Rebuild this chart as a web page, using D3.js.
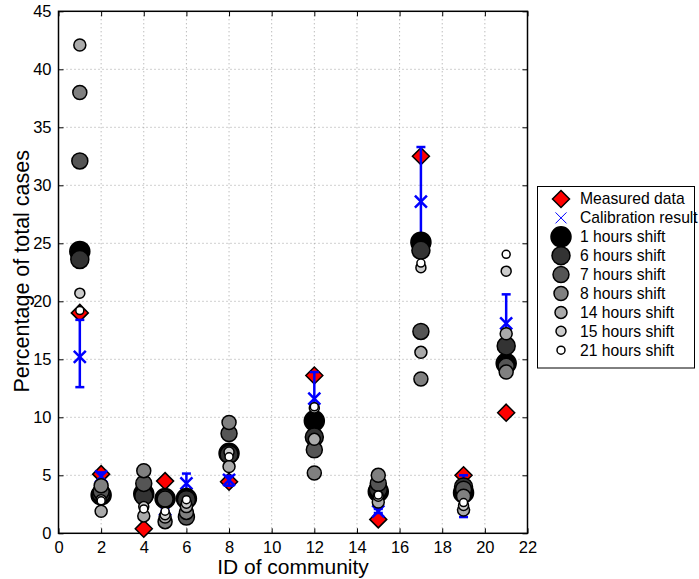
<!DOCTYPE html>
<html>
<head>
<meta charset="utf-8">
<script src="https://cdn.jsdelivr.net/npm/d3@7"></script>
<style>
  html, body { margin: 0; padding: 0; background: #fff; }
  svg { display: block; font-family: "Liberation Sans", Arial, Helvetica, sans-serif; }
</style>
</head>
<body>
<svg id="chart" width="699" height="579"></svg>
<script>
// Community IDs on the x axis
const communities = [1, 2, 4, 5, 6, 8, 12, 15, 17, 19, 21];

// Measured share of total cases (%)
const measured = [19.0, 5.1, 0.4, 4.5, 3.0, 4.45, 13.6, 1.2, 32.5, 5.0, 10.4];

// Calibration result with its lower / upper bounds (%)
const calibration = [15.2, 4.9, 3.4, 2.05, 4.3, 4.6, 11.6, 1.9, 28.6, 3.3, 18.1];
const calibrationLow = [12.6, 4.6, 3.0, 1.9, 3.5, 4.1, 11.0, 1.75, 24.8, 1.4, 15.6];
const calibrationHigh = [18.4, 5.25, 3.8, 2.2, 5.15, 4.95, 13.9, 2.1, 33.3, 5.0, 20.6];

// Simulated share for each time shift (%)
const shift1 = [24.3, 3.3, 3.4, 3.0, 3.0, 6.9, 9.7, 3.6, 25.1, 3.5, 14.65];
const shift6 = [23.6, 3.4, 3.2, 3.0, 2.9, 6.8, 8.3, 3.8, 24.4, 4.0, 16.15];
const shift7 = [32.1, 3.6, 4.3, 2.95, 1.4, 8.6, 7.2, 4.3, 17.4, 3.8, 14.4];
const shift8 = [38.0, 4.1, 5.4, 1.0, 1.8, 9.55, 5.2, 5.0, 13.3, 3.2, 13.9];
const shift14 = [42.1, 1.9, 1.5, 1.4, 2.3, 5.75, 8.1, 2.7, 15.6, 2.0, 17.2];
const shift15 = [20.7, 2.9, 2.3, 1.6, 2.6, 7.0, 10.8, 3.2, 22.9, 2.4, 22.6];
const shift21 = [19.2, 2.8, 2.1, 1.9, 2.9, 6.6, 10.9, 3.3, 23.3, 2.65, 24.05];

const shiftLabels = ["1 hours shift", "6 hours shift", "7 hours shift", "8 hours shift",
                     "14 hours shift", "15 hours shift", "21 hours shift"];

// Axis ticks
const xTicks = [0, 2, 4, 6, 8, 10, 12, 14, 16, 18, 20, 22];
const yTicks = [0, 5, 10, 15, 20, 25, 30, 35, 40, 45];

// Marker styling per shift series
const shiftSeries = [
  { values: shift1,  fill: "#000000", r: 10 },
  { values: shift6,  fill: "#333333", r: 9 },
  { values: shift7,  fill: "#555555", r: 8 },
  { values: shift8,  fill: "#808080", r: 7 },
  { values: shift14, fill: "#aaaaaa", r: 6 },
  { values: shift15, fill: "#cccccc", r: 5 },
  { values: shift21, fill: "#ffffff", r: 4 }
].map((s, i) => ({ ...s, label: shiftLabels[i] }));

const svg = d3.select("#chart");
const plot = { left: 58.5, right: 527.5, top: 11.3, bottom: 533.3 };

const x = d3.scaleLinear().domain([0, 22]).range([plot.left, plot.right]);
const y = d3.scaleLinear().domain([0, 45]).range([plot.bottom, plot.top]);

// Dotted grid
const grid = svg.append("g");
grid.selectAll("line.gx").data(xTicks.slice(1, -1)).enter().append("line")
  .attr("x1", d => x(d)).attr("x2", d => x(d))
  .attr("y1", plot.top).attr("y2", plot.bottom)
  .attr("stroke", "#a0a0a0").attr("stroke-width", 1).attr("stroke-dasharray", "1,3");
grid.selectAll("line.gy").data(yTicks.slice(1, -1)).enter().append("line")
  .attr("y1", d => y(d)).attr("y2", d => y(d))
  .attr("x1", plot.left).attr("x2", plot.right)
  .attr("stroke", "#a0a0a0").attr("stroke-width", 1).attr("stroke-dasharray", "1,3");

// Axes with inward ticks on all sides
const tickLen = 5;
const axisBottom = d3.axisBottom(x).tickValues(xTicks).tickSizeInner(-tickLen).tickSizeOuter(0).tickPadding(8);
const axisLeft = d3.axisLeft(y).tickValues(yTicks).tickSizeInner(-tickLen).tickSizeOuter(0).tickPadding(7);
const axisTop = d3.axisTop(x).tickValues(xTicks).tickSizeInner(-tickLen).tickSizeOuter(0).tickFormat("");
const axisRight = d3.axisRight(y).tickValues(yTicks).tickSizeInner(-tickLen).tickSizeOuter(0).tickFormat("");

function styleAxis(g) {
  g.select(".domain").remove();
  g.selectAll(".tick line").attr("stroke", "#000").attr("stroke-width", 1);
  g.selectAll(".tick text").attr("fill", "#000").style("font-size", "16.5px");
}
svg.append("g").attr("transform", `translate(0,${plot.bottom})`).call(axisBottom).call(styleAxis);
svg.append("g").attr("transform", `translate(${plot.left},0)`).call(axisLeft).call(styleAxis);
svg.append("g").attr("transform", `translate(0,${plot.top})`).call(axisTop).call(styleAxis);
svg.append("g").attr("transform", `translate(${plot.right},0)`).call(axisRight).call(styleAxis);

// Plot frame
svg.append("rect")
  .attr("x", plot.left).attr("y", plot.top)
  .attr("width", plot.right - plot.left).attr("height", plot.bottom - plot.top)
  .attr("fill", "none").attr("stroke", "#000").attr("stroke-width", 1.5);

const marks = svg.append("g");
const dS = 8.5;
const diamondPath = (cx, cy, s) => `M${cx},${cy - s}L${cx + s},${cy}L${cx},${cy + s}L${cx - s},${cy}Z`;
const xSize = 6;
const crossPath = (cx, cy, s) => `M${cx - s},${cy - s}L${cx + s},${cy + s}M${cx - s},${cy + s}L${cx + s},${cy - s}`;

// Measured data
marks.selectAll("path.meas").data(communities).enter().append("path")
  .attr("d", (c, i) => diamondPath(x(c), y(measured[i]), dS))
  .attr("fill", "#ff0000").attr("stroke", "#000").attr("stroke-width", 1.5);

// Calibration error bars and markers
const capW = 4.5;
const eb = marks.selectAll("g.eb").data(communities).enter().append("g");
eb.append("line")
  .attr("x1", c => x(c)).attr("x2", c => x(c))
  .attr("y1", (c, i) => y(calibrationLow[i])).attr("y2", (c, i) => y(calibrationHigh[i]))
  .attr("stroke", "#0000ff").attr("stroke-width", 2.5);
eb.append("line")
  .attr("x1", c => x(c) - capW).attr("x2", c => x(c) + capW)
  .attr("y1", (c, i) => y(calibrationLow[i])).attr("y2", (c, i) => y(calibrationLow[i]))
  .attr("stroke", "#0000ff").attr("stroke-width", 2.5);
eb.append("line")
  .attr("x1", c => x(c) - capW).attr("x2", c => x(c) + capW)
  .attr("y1", (c, i) => y(calibrationHigh[i])).attr("y2", (c, i) => y(calibrationHigh[i]))
  .attr("stroke", "#0000ff").attr("stroke-width", 2.5);
eb.append("path")
  .attr("d", (c, i) => crossPath(x(c), y(calibration[i]), xSize))
  .attr("fill", "none").attr("stroke", "#0000ff").attr("stroke-width", 2.5);

// Shift series circles, drawn in legend order
shiftSeries.forEach(s => {
  marks.append("g").selectAll("circle").data(communities).enter().append("circle")
    .attr("cx", c => x(c)).attr("cy", (c, i) => y(s.values[i]))
    .attr("r", s.r)
    .attr("fill", s.fill).attr("stroke", "#000").attr("stroke-width", 1.5);
});

// Axis titles
svg.append("text")
  .attr("x", (plot.left + plot.right) / 2).attr("y", 574)
  .attr("text-anchor", "middle").style("font-size", "21px").text("ID of community");
svg.append("text")
  .attr("transform", `translate(29,${(plot.top + plot.bottom) / 2 - 1}) rotate(-90)`)
  .attr("text-anchor", "middle").style("font-size", "21.5px").text("Percentage of total cases");

// Legend
const lg = svg.append("g");
lg.append("rect").attr("x", 537.5).attr("y", 186.5).attr("width", 157).attr("height", 181.5)
  .attr("fill", "#fff").attr("stroke", "#000").attr("stroke-width", 1);
const rowY = i => 199 + i * 18.9;
const mx = 561;
const tx = 580;
const legendItems = ["Measured data", "Calibration result"].concat(shiftLabels);
lg.append("path").attr("d", diamondPath(mx, rowY(0), dS))
  .attr("fill", "#ff0000").attr("stroke", "#000").attr("stroke-width", 1.5);
lg.append("path").attr("d", crossPath(mx, rowY(1), 5.5))
  .attr("fill", "none").attr("stroke", "#0000ff").attr("stroke-width", 1);
shiftSeries.forEach((s, i) => {
  lg.append("circle").attr("cx", mx).attr("cy", rowY(i + 2)).attr("r", s.r)
    .attr("fill", s.fill).attr("stroke", "#000").attr("stroke-width", 1.5);
});
lg.selectAll("text").data(legendItems).enter().append("text")
  .attr("x", tx).attr("y", (d, i) => rowY(i)).attr("dy", "0.35em")
  .style("font-size", "15.7px").text(d => d);
</script>
</body>
</html>
